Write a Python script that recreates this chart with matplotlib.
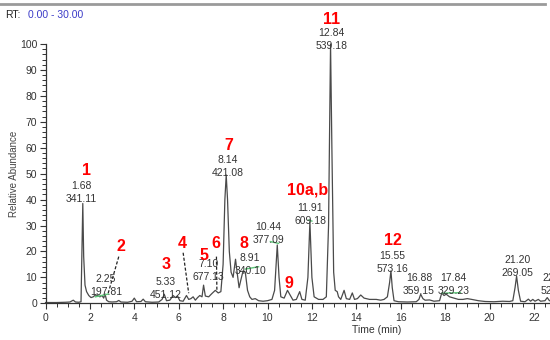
import matplotlib
matplotlib.use("Agg")
import matplotlib.pyplot as plt
from matplotlib.lines import Line2D
from matplotlib.ticker import MultipleLocator

plt.rcParams['font.family'] = ['Liberation Sans', 'DejaVu Sans']

# ---- chromatogram trace (time in min, relative abundance) ----
trace_time = [
    0.0, 0.5, 0.9, 1.1, 1.25, 1.35, 1.5, 1.6, 1.64, 1.68, 1.72, 1.78, 1.85, 1.95,
    2.05, 2.15, 2.25, 2.35, 2.45, 2.55, 2.62, 2.68, 2.75, 2.85, 3.0, 3.2, 3.3, 3.4,
    3.7, 3.9, 4.0, 4.1, 4.3, 4.4, 4.5, 4.8, 5.1, 5.25, 5.35, 5.45, 5.6, 5.75, 5.85,
    5.95, 6.05, 6.2, 6.35, 6.45, 6.55, 6.65, 6.75, 6.85, 6.95, 7.05, 7.12, 7.2,
    7.35, 7.5, 7.65, 7.78, 7.9, 8.0, 8.08, 8.14, 8.2, 8.28, 8.36, 8.45, 8.56, 8.63,
    8.72, 8.8, 8.9, 9.0, 9.1, 9.2, 9.3, 9.45, 9.6, 9.8, 10.0, 10.2, 10.32, 10.44,
    10.52, 10.6, 10.75, 10.9, 11.0, 11.15, 11.3, 11.45, 11.55, 11.7, 11.82, 11.91,
    12.0, 12.1, 12.3, 12.5, 12.65, 12.75, 12.84, 12.9, 12.98, 13.05, 13.14, 13.2,
    13.3, 13.45, 13.55, 13.7, 13.82, 13.92, 14.05, 14.2, 14.35, 14.6, 14.9, 15.1,
    15.25, 15.4, 15.5, 15.56, 15.62, 15.7, 15.9, 16.3, 16.7, 16.82, 16.9, 17.0,
    17.1, 17.3, 17.5, 17.75, 17.85, 17.95, 18.05, 18.2, 18.4, 18.6, 18.8, 19.0,
    19.2, 19.5, 19.8, 20.2, 20.6, 20.9, 21.05, 21.15, 21.22, 21.3, 21.4, 21.6,
    21.75, 21.85, 21.95, 22.05, 22.2, 22.3, 22.5, 22.6, 22.7, 22.9, 23.2]
trace_abund = [
    0.3, 0.3, 0.4, 0.5, 1.2, 0.5, 0.4, 0.6, 20, 38.5, 18, 7, 4.5, 3,
    2.2, 2.5, 3.2, 3.0, 2.5, 3.0, 2.0, 3.6, 1.2, 0.6, 0.5, 0.6, 1.1, 0.5,
    0.4, 0.8, 2.0, 0.6, 0.7, 1.6, 0.6, 0.4, 0.5, 1.5, 3.5, 1.0, 1.2, 3.0, 2.2,
    2.8, 1.0, 0.8, 3.0, 1.5, 1.8, 2.5, 1.2, 2.2, 3.0, 2.5, 7.0, 2.8,
    2.5, 3.8, 5.0, 4.0, 4.5, 15, 40, 49.5, 40, 20, 12, 10, 17, 12,
    6, 9, 12.5, 12, 5, 2.5, 1.5, 1.8, 1.0, 0.8, 1.0, 1.5, 5, 22.5,
    10, 2.5, 2.0, 5.0, 3.5, 1.2, 1.5, 4.5, 1.5, 1.2, 10, 31.5,
    10, 2.5, 1.5, 1.5, 2.5, 30, 100, 60, 12, 5, 4.5, 2.5,
    1.5, 5.0, 1.8, 1.5, 4.0, 1.5, 1.8, 3.2, 2.0, 1.5, 1.5, 1.2,
    1.5, 2.5, 8, 12.5, 6, 1.0, 0.6, 0.5, 0.6, 1.5, 3.5, 1.8,
    1.2, 1.3, 0.8, 1.0, 4.0, 3.0, 3.5, 2.5, 2.0, 1.5, 1.5, 1.8,
    1.5, 1.0, 0.7, 0.6, 0.8, 0.7, 1.0, 6, 10.5, 5, 0.8, 0.6,
    1.6, 0.8, 1.5, 0.8, 1.5, 0.8, 1.0, 2.2, 1.0, 0.8, 0.8]

# ---- peak annotations: retention time / m/z text and anchor ----
ann_rt = ["1.68", "2.25", "5.33", "7.10", "8.14", "8.91", "10.44", "11.91",
          "12.84", "15.55", "16.88", "17.84", "21.20", "22.91"]
ann_mz = ["341.11", "197.81", "451.12", "677.13", "421.08", "340.10", "377.09",
          "609.18", "539.18", "573.16", "359.15", "329.23", "269.05", "521.25"]
ann_x = [1.62, 2.72, 5.4, 7.33, 8.22, 9.22, 10.03, 11.92, 12.88, 15.63, 16.82,
         18.38, 21.27, 23.0]
ann_y = [45.2, 9.4, 8.2, 15.0, 55.3, 17.5, 29.4, 36.8, 104.3, 18.3, 9.8, 9.8, 16.7, 9.8]
line_gap = 5.0

# ---- compound numbers (red) ----
cmp_labels = ["1", "2", "3", "4", "5", "6", "7", "8", "9", "10a,b", "11", "12"]
cmp_x = [1.85, 3.42, 5.45, 6.17, 7.12, 7.66, 8.24, 8.92, 10.95, 11.8, 12.88, 15.63]
cmp_y = [51.4, 22.0, 14.8, 23.0, 18.3, 23.2, 61.0, 23.2, 7.8, 43.7, 109.3, 24.4]

# ---- dashed leader lines (from label to peak) ----
lead_x0 = [3.3, 6.2, 7.7]
lead_y0 = [18.0, 19.5, 18.0]
lead_x1 = [2.8, 6.45, 7.72]
lead_y1 = [3.2, 3.9, 5.0]

# ---- green annotation marks ----
grn_x0 = [2.25, 9.0, 10.13, 11.85, 17.87]
grn_y0 = [2.5, 13.2, 23.8, 32.1, 3.9]
grn_x1 = [2.84, 9.6, 10.5, 12.0, 18.69]
grn_y1 = [3.6, 14.1, 23.1, 31.7, 4.1]

W, H = 550, 340
fig = plt.figure(figsize=(W / 100, H / 100), dpi=100)
x_left_px, y0_px, y100_px = 45.5, 303.3, 44.0
px_per_min = 22.2
xmax = 23.2
ax_w_px = xmax * px_per_min
ax = fig.add_axes([x_left_px / W, (H - y0_px) / H,
                   ax_w_px / W, (y0_px - y100_px) / H])

ax.plot(trace_time, trace_abund, color='#4a4a4a', lw=0.9, clip_on=False)
ax.set_xlim(0, xmax)
ax.set_ylim(0, 100)

for s in ['top', 'right']:
    ax.spines[s].set_visible(False)
for s in ['left', 'bottom']:
    ax.spines[s].set_color('#333333')
    ax.spines[s].set_linewidth(0.9)

ax.xaxis.set_major_locator(MultipleLocator(2))
ax.xaxis.set_minor_locator(MultipleLocator(0.5))
ax.yaxis.set_major_locator(MultipleLocator(10))
ax.yaxis.set_minor_locator(MultipleLocator(2))
ax.tick_params(axis='both', which='major', length=4, width=0.8, color='#333333',
               labelsize=7.5, labelcolor='#333333', pad=2)
ax.tick_params(axis='both', which='minor', length=3, width=0.7, color='#333333')
ax.tick_params(axis='x', which='major', pad=3)

ax.set_xlabel('Time (min)', fontsize=7.5, color='#333333')
ax.xaxis.set_label_coords((377 - x_left_px) / ax_w_px, -0.085)
ax.set_ylabel('Relative Abundance', fontsize=7, color='#444444')
ax.yaxis.set_label_coords((19 - x_left_px) / ax_w_px, 0.5)

for rt, mz, x, y in zip(ann_rt, ann_mz, ann_x, ann_y):
    ax.text(x, y, rt, ha='center', va='center', fontsize=7.5,
            color='#333333', clip_on=False)
    ax.text(x, y - line_gap, mz, ha='center', va='center', fontsize=7.5,
            color='#333333', clip_on=False)

for lab, x, y in zip(cmp_labels, cmp_x, cmp_y):
    ax.text(x, y, lab, ha='center', va='center', fontsize=11.5, color='#ff0000',
            fontweight='bold', clip_on=False)

for x0, y0, x1, y1 in zip(lead_x0, lead_y0, lead_x1, lead_y1):
    ax.plot([x0, x1], [y0, y1], color='#222222', lw=0.9, ls=(0, (2.5, 1.5)))

for x0, y0, x1, y1 in zip(grn_x0, grn_y0, grn_x1, grn_y1):
    ax.plot([x0, x1], [y0, y1], color='#5cc878', lw=1.0)

# header
fig.add_artist(Line2D([0.0, 545 / W], [1 - 4 / H, 1 - 4 / H], color='#9a9a9a', lw=2))
fig.text(5 / W, 1 - 15 / H, "RT:", fontsize=7.5, color='#222222', va='center')
fig.text(28 / W, 1 - 15 / H, "0.00 - 30.00", fontsize=7.5, color='#3b3bc8', va='center')

fig.savefig('out.png', dpi=100)
